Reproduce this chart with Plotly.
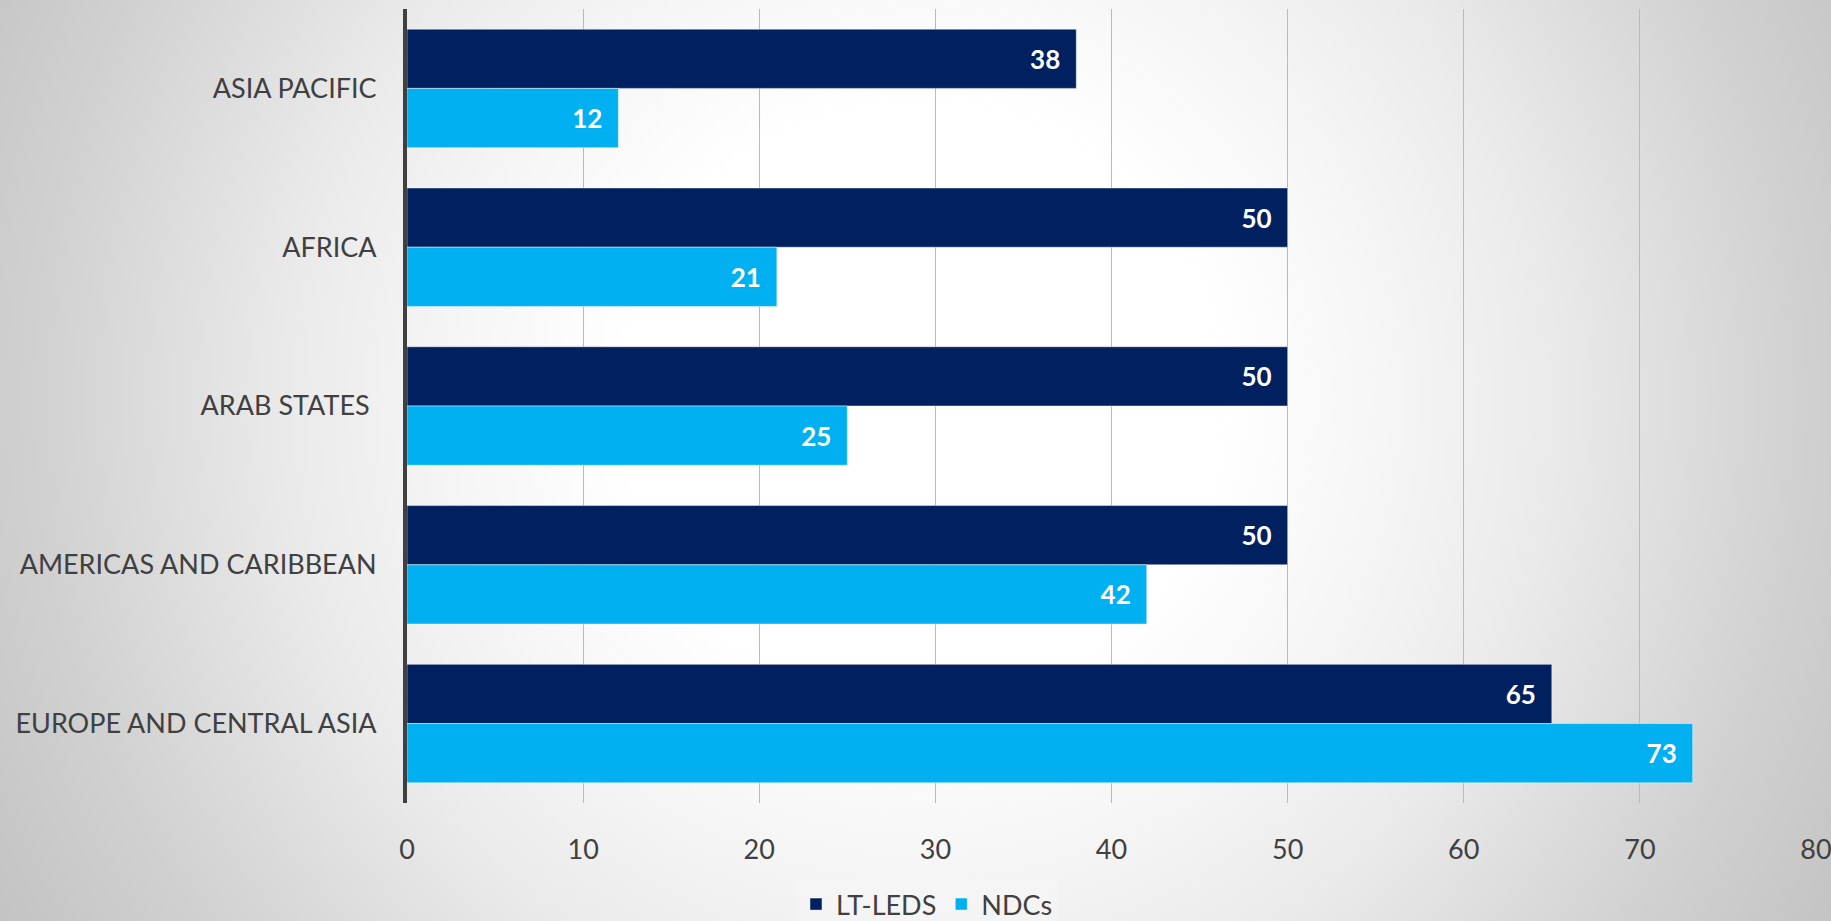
import base64
import plotly.graph_objects as go

# Regions, top to bottom
categories = ["ASIA PACIFIC", "AFRICA", "ARAB STATES\u00a0", "AMERICAS AND CARIBBEAN", "EUROPE AND CENTRAL ASIA"]
lt_leds = [38, 50, 50, 50, 65]
ndcs = [12, 21, 25, 42, 73]
x_ticks = [0, 10, 20, 30, 40, 50, 60, 70, 80]

W, H = 1831, 921
M_L, M_R, M_T, M_B = 407, 15, 9, 118
PW, PH = W - M_L - M_R, H - M_T - M_B

TEXT = "#404040"
FONT = "Lato"

# soft radial backdrop for the whole canvas
svg = (
    f"<svg xmlns='http://www.w3.org/2000/svg' width='{W}' height='{H}' viewBox='0 0 {W} {H}' "
    "preserveAspectRatio='none'><defs>"
    "<radialGradient id='g' gradientUnits='userSpaceOnUse' cx='920' cy='400' r='1060'>"
    "<stop offset='0' stop-color='#ffffff'/>"
    "<stop offset='0.28' stop-color='#ffffff'/>"
    "<stop offset='0.45' stop-color='#f5f5f5'/>"
    "<stop offset='0.6' stop-color='#eaeaea'/>"
    "<stop offset='0.83' stop-color='#d1d1d1'/>"
    "<stop offset='1' stop-color='#c3c3c3'/>"
    "</radialGradient></defs>"
    f"<rect width='{W}' height='{H}' fill='url(#g)'/></svg>"
)
bg_uri = "data:image/svg+xml;base64," + base64.b64encode(svg.encode()).decode()

label_pad = "\u2002"
bar_text = dict(family=FONT, size=26, color="white", weight="bold")
bar_edge = dict(color="rgba(255,255,255,0.45)", width=1)

fig = go.Figure()
fig.add_trace(go.Bar(
    name="LT-LEDS", y=categories, x=lt_leds, orientation="h",
    marker=dict(color="#002060", line=bar_edge),
    texttemplate="%{x}" + label_pad, textposition="inside", insidetextanchor="end",
    textfont=bar_text,
))
fig.add_trace(go.Bar(
    name="NDCs", y=categories, x=ndcs, orientation="h",
    marker=dict(color="#00B0F0", line=bar_edge),
    texttemplate="%{x}" + label_pad, textposition="inside", insidetextanchor="end",
    textfont=bar_text,
))

fig.update_layout(
    width=W, height=H,
    margin=dict(l=M_L, r=M_R, t=M_T, b=M_B, pad=0, autoexpand=False),
    barmode="group", bargap=0.254, bargroupgap=0,
    paper_bgcolor="#d8d8d8", plot_bgcolor="rgba(0,0,0,0)",
    font=dict(family=FONT, color=TEXT, size=27),
    showlegend=True,
    legend=dict(
        orientation="h", xref="paper", yref="paper",
        x=(927 - M_L) / PW, xanchor="center",
        y=-(880 - (M_T + PH)) / PH, yanchor="top",
        bgcolor="rgba(246,246,246,0.55)",
        font=dict(family=FONT, size=27, color=TEXT),
        traceorder="normal",
    ),
    images=[dict(
        source=bg_uri, xref="paper", yref="paper",
        x=-M_L / PW, y=1 + M_T / PH,
        sizex=W / PW, sizey=H / PH,
        xanchor="left", yanchor="top", sizing="stretch", layer="below",
    )],
)

fig.update_xaxes(
    range=[0, 80], tickvals=x_ticks, ticktext=[str(v) for v in x_ticks],
    showgrid=True, gridcolor="#bababa", gridwidth=1.2,
    zeroline=False, showline=False, ticks="", automargin=False,
    ticklabelstandoff=28, ticklabeloverflow="allow",
    tickfont=dict(family=FONT, size=27, color=TEXT),
)
fig.update_yaxes(
    autorange="reversed", categoryorder="array", categoryarray=categories,
    showgrid=False, zeroline=False, automargin=False,
    showline=True, linecolor="#404040", linewidth=4,
    ticks="", ticklabelstandoff=21,
    tickfont=dict(family=FONT, size=27, color=TEXT),
)

fig.write_html("out.html")
